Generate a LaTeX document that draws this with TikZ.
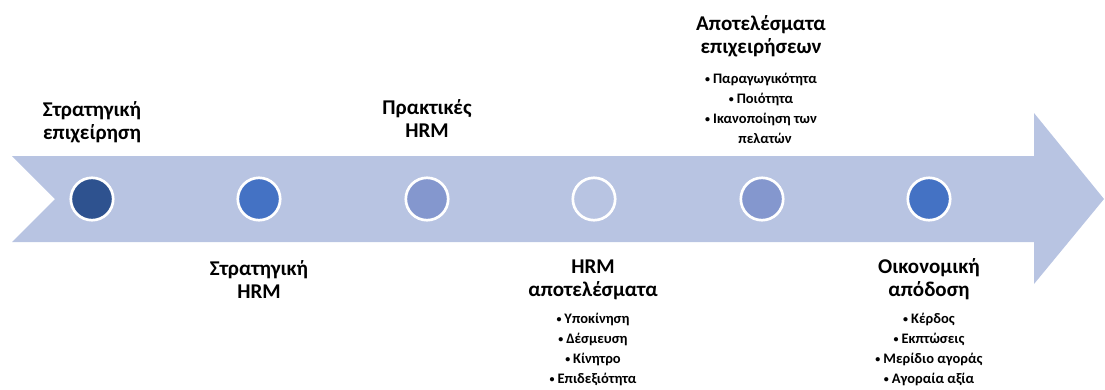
\documentclass[tikz,border=0pt]{standalone}
\usepackage{fontspec}
\setmainfont{Carlito}
\definecolor{arrowfill}{HTML}{B8C4E2}
\definecolor{cdark}{HTML}{2E528F}
\definecolor{cmid}{HTML}{4472C4}
\definecolor{clight}{HTML}{8497CE}
\tikzset{
  dot/.style={circle, draw=white, line width=2.7pt, minimum size=42.4pt, inner sep=0pt},
  ttl/.style={anchor=base, inner sep=0pt, font=\fontsize{21}{23}\selectfont\bfseries},
  bul/.style={anchor=base, inner sep=0pt, font=\fontsize{14.5}{20}\selectfont\bfseries},
}
\newcommand{\blk}[1]{\begin{tabular}[t]{@{}c@{}}#1\end{tabular}}
\newcommand{\bu}{{\fontsize{10}{10}\selectfont\raisebox{1pt}{•}}\hspace{3pt}}
\begin{document}
\begin{tikzpicture}[x=1pt,y=-1pt]
\useasboundingbox (0,0) rectangle (1105,389);
\fill[arrowfill] (12,156) -- (1034,156) -- (1034,113) -- (1104,199) -- (1034,284) -- (1034,242) -- (12,242) -- (55,199) -- cycle;
\node[dot, fill=cdark] (c1) at (92,199) {};
\node[dot, fill=cmid] (c2) at (259,199) {};
\node[dot, fill=clight] (c3) at (427,199) {};
\node[dot, fill=arrowfill] (c4) at (594,199) {};
\node[dot, fill=clight] (c5) at (762,199) {};
\node[dot, fill=cmid] (c6) at (929,199) {};
\node[ttl] (t1) at (92,116) {\blk{Στρατηγική\\επιχείρηση}};
\node[ttl] (t2) at (259,275) {\blk{Στρατηγική\\HRM}};
\node[ttl] (t3) at (427,114) {\blk{Πρακτικές\\HRM}};
\node[ttl] (t5) at (761,30) {\blk{Αποτελέσματα\\επιχειρήσεων}};
\node[bul] (b5) at (761,83) {\blk{\bu Παραγωγικότητα\\\bu Ποιότητα\\\bu Ικανοποίηση των\\\hphantom{\bu}πελατών}};
\node[ttl] (t4) at (593,273) {\blk{HRM\\αποτελέσματα}};
\node[bul] (b4) at (593,323) {\blk{\bu Υποκίνηση\\\bu Δέσμευση\\\bu Κίνητρο\\\bu Επιδεξιότητα}};
\node[ttl] (t6) at (929,273) {\blk{Οικονομική\\απόδοση}};
\node[bul] (b6) at (929,323) {\blk{\bu Κέρδος\\\bu Εκπτώσεις\\\bu Μερίδιο αγοράς\\\bu Αγοραία αξία}};
\end{tikzpicture}
\end{document}
